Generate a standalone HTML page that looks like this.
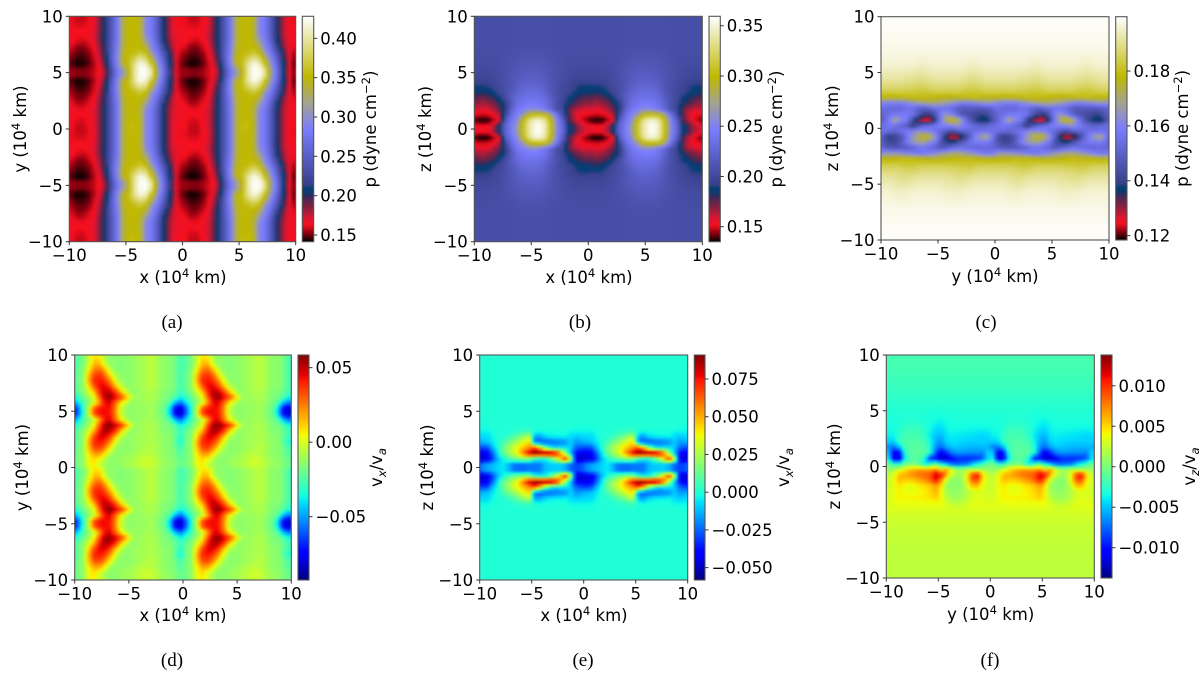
<!DOCTYPE html>
<html lang="en">
<head>
<meta charset="utf-8">
<title>Pressure and velocity slices</title>
<style>
html,body{margin:0;padding:0;background:#fff;width:1200px;height:677px;overflow:hidden}
svg{display:block}
text{font-family:"DejaVu Sans",sans-serif;fill:#000}
.cap{font-family:"Liberation Serif",serif;font-size:19px}
</style>
</head>
<body>
<svg id="fig" xmlns="http://www.w3.org/2000/svg" width="1200" height="677" viewBox="0 0 1200 677">
<defs id="defs"></defs>
<rect width="1200" height="677" fill="#fff"/>
<g id="panel-a"></g>
<g id="panel-b"></g>
<g id="panel-c"></g>
<g id="panel-d"></g>
<g id="panel-e"></g>
<g id="panel-f"></g>
<text class="cap" x="172" y="328" text-anchor="middle">(a)</text>
<text class="cap" x="580" y="328" text-anchor="middle">(b)</text>
<text class="cap" x="986" y="328" text-anchor="middle">(c)</text>
<text class="cap" x="172" y="666" text-anchor="middle">(d)</text>
<text class="cap" x="583" y="666" text-anchor="middle">(e)</text>
<text class="cap" x="990" y="666" text-anchor="middle">(f)</text>
</svg>
<script>
// ---------- axis data ----------
const axisTicks = [-10, -5, 0, 5, 10];
const axisTickLabels = ["\u221210", "\u22125", "0", "5", "10"];

const tileColumnEdges = [-10,-9.5,-9,-8.5,-8,-7.5,-7,-6.5,-6,-5.5,-5,-4.5,-4,-3.5,-3,-2.5,-2,-1.5,-1,-0.5,0];
const tileRowEdges = [10,9.5,9,8.5,8,7.5,7,6.5,6,5.5,5,4.5,4,3.5,3,2.5,2,1.5,1,0.5,0];
const slabRowEdges = [10,8,6.5,5,4,3.5,3,2.5,2,1.5,1,0.5,0,-0.5,-1,-1.5,-2,-2.5,-3,-3.5,-4,-5,-6.5,-8,-10];

// ---------- colour-bar data ----------
const cbarTicksA = [150, 200, 250, 300, 350, 400];
const cbarLabelsA = ["0.15", "0.20", "0.25", "0.30", "0.35", "0.40"];
const cbarTicksB = [150, 200, 250, 300, 350];
const cbarLabelsB = ["0.15", "0.20", "0.25", "0.30", "0.35"];
const cbarTicksC = [120, 140, 160, 180];
const cbarLabelsC = ["0.12", "0.14", "0.16", "0.18"];
const cbarTicksD = [-50, 0, 50];
const cbarLabelsD = ["\u22120.05", "0.00", "0.05"];
const cbarTicksE = [-50, -25, 0, 25, 50, 75];
const cbarLabelsE = ["\u22120.050", "\u22120.025", "0.000", "0.025", "0.050", "0.075"];
const cbarTicksF = [-100, -50, 0, 50, 100];
const cbarLabelsF = ["\u22120.010", "\u22120.005", "0.000", "0.005", "0.010"];

// ---------- field values ----------
// (a) p in 1e-3 dyne/cm2, one x-y period
const pressureXY = [
[162,158,158,162,168,190,209,245,280,335,352,352,345,295,280,250,209,185,166,162],
[162,160,160,163,168,190,209,245,280,335,352,352,345,295,280,250,209,185,166,162],
[164,163,163,164,170,190,209,245,280,335,352,352,345,295,280,250,209,185,166,164],
[164,163,163,165,172,192,209,245,280,335,352,352,345,300,282,252,210,186,168,165],
[164,160,158,162,170,190,209,248,282,335,352,352,347,318,288,258,215,190,170,164],
[160,152,152,158,166,186,209,250,285,338,352,352,350,340,295,270,228,195,172,162],
[154,149,149,153,162,182,207,252,290,342,352,355,368,355,310,282,245,209,178,158],
[150,145,146,150,160,176,205,250,295,345,355,375,395,385,340,295,258,212,180,155],
[146,142,143,148,157,172,198,245,292,340,358,395,420,412,365,310,270,220,185,152],
[154,152,152,154,159,166,188,235,280,310,345,398,425,425,400,320,280,225,180,154],
[154,152,152,154,159,166,188,235,280,310,345,398,425,425,400,320,280,225,180,154],
[146,142,143,148,157,172,198,245,292,340,358,395,420,412,365,310,270,220,185,152],
[150,145,146,150,160,176,205,250,295,345,355,378,395,385,340,295,258,212,180,155],
[154,149,149,153,162,182,207,252,290,342,352,356,368,355,310,282,245,209,178,158],
[158,151,152,158,166,186,209,250,285,338,352,352,350,338,295,270,228,195,172,162],
[162,156,157,162,168,188,209,248,282,335,352,352,345,315,288,258,215,190,170,165],
[164,162,162,164,170,190,209,245,280,335,350,350,342,298,280,250,209,186,168,165],
[165,163,163,165,170,190,209,245,280,335,350,350,342,295,280,250,209,185,168,165],
[163,160,160,164,170,190,209,245,280,335,352,352,345,295,280,250,209,185,166,164],
[163,158,158,163,170,190,209,245,280,335,355,355,348,295,280,250,209,185,166,163]
];

// (b) p in 1e-3 dyne/cm2, one x period
const pressureXZ = [
[205,205,205,205,205,205,206,206,206,206,206,206,206,206,205,205,205,205,205,205],
[205,205,205,205,205,205,206,207,207,207,207,207,207,206,205,205,205,205,205,205],
[203,203,203,204,205,207,209,211,213,213,213,213,211,209,207,205,204,203,203,203],
[198,198,199,200,203,207,212,216,219,220,220,219,216,211,207,204,201,199,197,197],
[190,189,191,197,202,206,212,220,225,227,227,225,220,212,206,202,198,194,189,188],
[184,182,185,190,199,206,215,224,230,232,232,230,224,214,206,201,197,190,186,185],
[175,172,176,180,190,205,218,230,236,238,238,236,230,218,208,200,188,184,178,176],
[168,165,168,172,182,192,215,234,240,244,244,242,236,222,208,198,185,178,172,168],
[158,156,158,165,175,190,222,240,248,254,256,250,240,225,206,198,175,165,160,158],
[150,148,150,155,165,200,232,250,262,295,305,305,300,275,240,205,178,160,152,150],
[137,135,137,146,160,220,240,255,298,330,348,350,335,295,250,222,178,165,152,145],
[155,152,155,165,190,225,245,265,302,335,352,358,340,300,255,228,190,178,165,158],
[155,152,155,165,190,225,245,265,302,335,352,358,340,300,255,228,190,178,165,158],
[137,135,137,146,160,220,240,255,298,330,348,350,335,295,250,222,178,165,152,145],
[150,148,150,155,165,200,232,250,262,295,305,305,300,275,240,205,178,160,152,150],
[158,156,158,165,175,190,222,240,248,254,256,250,240,225,206,198,175,165,160,158],
[168,165,168,172,182,192,215,234,240,244,244,242,236,222,208,198,185,178,172,168],
[175,172,176,180,190,205,218,230,236,238,238,236,230,218,208,200,188,184,178,176],
[184,182,185,190,199,206,215,224,230,232,232,230,224,214,206,201,197,190,186,185],
[190,189,191,197,202,206,212,220,225,227,227,225,220,212,206,202,198,194,189,188],
[198,198,199,200,203,207,212,216,219,220,220,219,216,211,207,204,201,199,197,197],
[203,203,203,204,205,207,209,211,213,213,213,213,211,209,207,205,204,203,203,203],
[205,205,205,205,205,205,206,207,207,207,207,207,207,206,205,205,205,205,205,205],
[205,205,205,205,205,205,206,206,206,206,206,206,206,206,205,205,205,205,205,205]
];

// (c) p in 1e-3 dyne/cm2, one y period
const pressureYZ = [
[199,199,199,199,199,199,199,199,199,199,199,199,199,199,199,199,199,199,199,199],
[198,198,198,198,198,198,198,198,198,198,198,198,198,198,198,198,198,198,198,198],
[196,196,196,196,196,196,195,195,196,196,196,196,196,196,196,195,195,196,196,196],
[192,192,192,192,191,191,190,190,191,192,192,192,192,192,191,190,190,191,192,192],
[188,188,188,188,187,187,186,186,187,188,188,188,188,188,187,186,186,187,188,188],
[184,184,184,184,183,183,182,182,183,184,184,184,184,184,183,182,182,183,184,184],
[177,176,176,177,178,179,179,179,178,177,176,176,176,177,178,179,179,178,177,177],
[160,158,158,158,160,163,166,168,170,170,168,166,164,160,158,158,160,162,165,163],
[155,152,152,152,155,155,150,148,150,154,155,155,152,148,146,147,147,146,147,150],
[152,155,158,158,158,156,148,140,138,145,160,165,160,152,146,144,142,140,142,148],
[152,160,170,162,158,145,132,126,125,140,158,172,178,172,160,148,140,136,134,144],
[155,158,156,152,148,138,144,152,154,157,160,160,162,165,160,156,152,150,152,154],
[155,154,152,155,158,160,164,162,160,156,152,148,144,150,152,152,155,155,155,155],
[144,137,140,146,155,165,172,178,176,165,150,132,125,126,135,148,160,168,172,160],
[146,142,142,148,158,165,168,168,162,158,145,140,138,144,150,155,158,158,158,154],
[150,147,147,147,148,150,155,156,154,150,147,150,154,156,155,153,152,152,153,152],
[165,166,165,164,162,160,158,158,160,162,166,168,170,170,168,166,163,160,158,158],
[177,177,178,179,179,179,178,177,176,176,176,177,178,179,179,179,178,177,176,176],
[184,184,184,183,182,182,183,184,184,184,184,184,183,183,182,182,183,184,184,184],
[188,188,188,187,186,186,187,188,188,188,188,188,187,187,186,186,187,188,188,188],
[192,192,191,190,190,191,192,192,192,192,192,191,191,190,190,191,192,192,192,192],
[196,196,195,195,195,196,196,196,196,196,196,195,195,195,195,196,196,196,196,196],
[198,198,198,198,198,198,198,198,198,198,198,198,198,198,198,198,198,198,198,198],
[199,199,199,199,199,199,199,199,199,199,199,199,199,199,199,199,199,199,199,199]
];

// (d) vx/va in 1e-3, one x-y period
const velocityXY = [
[-24,-18,-6,8,10,-6,-14,-14,-16,-14,-14,-10,-10,-6,-6,-10,-14,-14,-18,-28],
[-24,-18,-4,14,16,-2,-14,-14,-16,-14,-14,-10,-10,-6,-6,-10,-14,-14,-18,-28],
[-22,-16,2,22,28,15,-4,-14,-16,-14,-14,-10,-10,-6,-6,-10,-14,-14,-18,-28],
[-20,-15,12,32,38,28,8,-8,-14,-14,-14,-10,-10,-6,-6,-10,-14,-14,-18,-28],
[-20,-15,14,38,42,38,22,2,-12,-14,-14,-10,-10,-6,-6,-10,-14,-14,-18,-28],
[-20,-14,8,30,44,45,35,15,-4,-12,-14,-10,-10,-6,-6,-10,-14,-14,-18,-28],
[-22,-16,-2,14,38,52,48,35,14,-4,-14,-12,-10,-8,-8,-12,-16,-16,-20,-30],
[-30,-22,-10,0,28,50,58,46,36,20,-4,-12,-10,-8,-8,-12,-16,-18,-24,-36],
[-42,-28,-16,-4,18,42,46,28,8,-6,-14,-12,-12,-10,-10,-14,-18,-24,-45,-58],
[-60,-34,-6,30,42,44,42,24,-2,-12,-14,-12,-12,-10,-10,-16,-20,-40,-72,-85],
[-60,-34,-6,30,42,44,42,24,-2,-12,-14,-12,-12,-10,-10,-16,-20,-40,-72,-85],
[-42,-28,-16,-4,18,42,46,28,8,-6,-14,-12,-12,-10,-10,-14,-18,-24,-45,-58],
[-30,-22,-10,2,30,52,58,48,38,20,-4,-12,-10,-8,-8,-12,-16,-18,-24,-36],
[-22,-16,-2,16,40,54,50,38,14,-4,-14,-12,-10,-8,-8,-12,-16,-16,-20,-30],
[-20,-14,8,32,46,46,36,15,-4,-12,-14,-10,-10,-8,-8,-10,-14,-14,-20,-32],
[-20,-15,14,38,42,38,22,2,-12,-14,-12,-10,-10,-8,-8,-10,-14,-14,-22,-38],
[-18,-14,12,32,36,26,8,-8,-14,-14,-14,-10,-10,-6,-6,-10,-14,-14,-18,-28],
[-18,-14,6,20,22,10,-6,-14,-14,-12,-12,-8,-6,-6,-8,-10,-14,-14,-18,-26],
[-18,-14,3,10,6,-6,-14,-14,-12,-10,-10,-6,-4,-2,-4,-8,-12,-14,-16,-22],
[-18,-14,3,8,-3,-10,-14,-14,-12,-10,-8,-6,-2,-2,-4,-8,-12,-12,-16,-20]
];

// (e) vx/va in 1e-3, one x period
const velocityXZ = [
[0,0,0,0,0,0,0,0,0,0,0,0,0,0,0,0,0,0,0,0],
[0,0,0,0,0,0,0,0,0,0,0,0,0,0,0,0,0,0,0,0],
[0,0,0,0,0,0,0,0,0,0,0,0,0,0,0,0,0,0,0,0],
[0,0,0,0,0,0,0,0,0,0,0,0,0,0,0,0,0,0,0,0],
[-1,-1,0,0,0,0,0,0,0,0,0,0,0,0,0,0,0,0,-1,-1],
[-3,-3,-1,0,0,0,1,2,3,4,0,-2,-1,-1,-1,-1,-1,-3,-3,-3],
[-8,-8,-3,0,0,3,8,14,20,28,-14,-16,-8,-5,-4,-4,-3,-8,-10,-8],
[-12,-10,-5,0,6,14,20,28,36,44,-24,-28,-28,-26,-24,-22,-20,-8,-18,-15],
[-30,-28,-12,0,12,22,32,40,48,55,72,48,18,0,-8,-5,-5,-10,-25,-28],
[-45,-42,-25,-5,12,20,30,42,62,80,90,92,92,92,85,60,20,-12,-40,-45],
[-45,-45,-30,-12,-3,5,12,15,18,15,0,-4,-6,5,20,45,72,30,-45,-48],
[-20,-15,-12,-8,-5,-12,-22,-24,-24,-22,-22,-22,-12,-10,-10,-10,-15,-25,-30,-28],
[-20,-15,-12,-8,-5,-12,-22,-24,-24,-22,-22,-22,-12,-10,-10,-10,-15,-25,-30,-28],
[-45,-45,-30,-12,-3,5,12,15,18,15,0,-4,-6,5,20,45,72,30,-45,-48],
[-45,-42,-25,-5,12,20,30,42,62,80,90,92,92,92,85,60,20,-12,-40,-45],
[-30,-28,-12,0,12,22,32,40,48,55,72,48,18,0,-8,-5,-5,-10,-25,-28],
[-12,-10,-5,0,6,14,20,28,36,44,-24,-28,-28,-26,-24,-22,-20,-8,-18,-15],
[-8,-8,-3,0,0,3,8,14,20,28,-14,-16,-8,-5,-4,-4,-3,-8,-10,-8],
[-3,-3,-1,0,0,0,1,2,3,4,0,-2,-1,-1,-1,-1,-1,-3,-3,-3],
[-1,-1,0,0,0,0,0,0,0,0,0,0,0,0,0,0,0,0,-1,-1],
[0,0,0,0,0,0,0,0,0,0,0,0,0,0,0,0,0,0,0,0],
[0,0,0,0,0,0,0,0,0,0,0,0,0,0,0,0,0,0,0,0],
[0,0,0,0,0,0,0,0,0,0,0,0,0,0,0,0,0,0,0,0],
[0,0,0,0,0,0,0,0,0,0,0,0,0,0,0,0,0,0,0,0]
];

// (f) vz/va in 1e-4, one y period
const velocityYZ = [
[-18,-18,-18,-18,-18,-18,-18,-18,-18,-18,-18,-18,-18,-18,-18,-18,-18,-18,-18,-18],
[-22,-22,-22,-22,-22,-22,-22,-22,-22,-22,-22,-22,-22,-22,-22,-22,-22,-22,-22,-22],
[-27,-27,-27,-27,-27,-27,-27,-27,-27,-27,-27,-27,-27,-27,-27,-27,-27,-27,-27,-27],
[-31,-31,-31,-30,-30,-30,-30,-31,-32,-33,-33,-32,-31,-31,-31,-31,-31,-31,-31,-31],
[-33,-33,-31,-27,-26,-26,-27,-30,-34,-38,-40,-36,-33,-33,-33,-33,-33,-33,-33,-33],
[-35,-34,-28,-22,-20,-20,-22,-28,-36,-44,-46,-38,-35,-36,-36,-36,-37,-38,-38,-37],
[-38,-36,-24,-19,-18,-18,-20,-26,-40,-50,-54,-42,-38,-40,-40,-42,-42,-44,-46,-44],
[-46,-44,-22,-16,-15,-14,-15,-20,-36,-56,-62,-46,-42,-42,-44,-46,-46,-46,-46,-46],
[-68,-70,-52,-18,-14,-12,-12,-15,-32,-62,-76,-58,-50,-50,-52,-52,-54,-54,-52,-54],
[-52,-108,-100,-30,-12,-10,-10,-12,-28,-78,-110,-92,-70,-62,-62,-64,-64,-64,-68,-44],
[-40,-118,-115,-42,-16,-12,-12,-35,-95,-100,-122,-122,-105,-92,-90,-92,-92,-90,-80,-44],
[-5,-28,-32,-10,-8,-5,-20,-48,-30,-15,-40,-60,-80,-85,-80,-78,-55,-38,-22,-8],
[5,12,28,40,55,62,66,62,65,72,40,68,35,15,10,20,15,10,12,8],
[22,36,60,66,70,78,82,88,92,122,115,70,30,15,12,40,95,115,55,26],
[25,38,58,52,52,56,65,70,85,108,75,25,5,3,8,38,85,90,44,28],
[26,38,46,38,35,38,44,48,55,65,50,12,5,5,8,25,55,58,36,28],
[28,38,42,38,36,38,40,44,50,60,42,15,8,8,12,18,30,34,32,28],
[30,38,42,42,42,42,42,45,48,55,42,22,12,10,14,20,30,34,32,30],
[33,36,38,38,38,38,38,38,38,40,38,30,22,20,22,28,33,35,35,33],
[33,33,33,33,33,33,33,33,33,33,33,32,30,30,30,32,33,33,33,33],
[28,28,28,28,28,28,28,28,28,28,28,28,28,28,28,28,28,28,28,28],
[25,25,25,25,25,25,25,25,25,25,25,25,25,25,25,25,25,25,25,25],
[23,23,23,23,23,23,23,23,23,23,23,23,23,23,23,23,23,23,23,23],
[22,22,22,22,22,22,22,22,22,22,22,22,22,22,22,22,22,22,22,22]
];

// ---------- colour maps ----------
const pressureMapStops = [
  [0,"#000000"],[0.04,"#900010"],[0.075,"#f5101f"],[0.10,"#e01530"],[0.15,"#8a2040"],
  [0.20,"#3a2a58"],[0.215,"#0a3a72"],[0.245,"#0a4078"],[0.25,"#353f88"],[0.5,"#7b7dff"],
  [0.62,"#a5a58a"],[0.73,"#bfb800"],[1,"#ffffff"]
];
function hexRgb(h){return [parseInt(h.substr(1,2),16),parseInt(h.substr(3,2),16),parseInt(h.substr(5,2),16)];}
function pressureColor(t){
  t=Math.max(0,Math.min(1,t));
  for(let i=1;i<pressureMapStops.length;i++){
    if(t<=pressureMapStops[i][0]){
      const a=pressureMapStops[i-1],b=pressureMapStops[i];
      const f=(t-a[0])/(b[0]-a[0]),ca=hexRgb(a[1]),cb=hexRgb(b[1]);
      return "rgb("+ca.map((v,k)=>Math.round(v+(cb[k]-v)*f)).join(",")+")";
    }
  }
  return "#fff";
}
function piece(pts,t){
  for(let i=1;i<pts.length;i++){
    if(t<=pts[i][0]){const a=pts[i-1],b=pts[i];return a[1]+(b[1]-a[1])*(t-a[0])/(b[0]-a[0]);}
  }
  return pts[pts.length-1][1];
}
function jetColor(t){
  t=Math.max(0,Math.min(1,t));
  const r=piece([[0,0],[0.35,0],[0.66,1],[0.89,1],[1,0.5]],t);
  const g=piece([[0,0],[0.125,0],[0.375,1],[0.64,1],[0.91,0],[1,0]],t);
  const b=piece([[0,0.5],[0.11,1],[0.34,1],[0.65,0],[1,0]],t);
  return "rgb("+Math.round(r*255)+","+Math.round(g*255)+","+Math.round(b*255)+")";
}

// ---------- panel layout ----------
const panels = [
 {id:"a",left:69.3,right:295.7,top:16.3,bottom:241.7,barL:302.3,barR:313.7,vmin:141.5,vmax:428,values:pressureXY,rows:tileRowEdges,wrapY:true,color:pressureColor,ticks:cbarTicksA,labels:cbarLabelsA,xName:"x",yName:"y",quantity:"p",xLabelX:183,xLabelY:283,yLabelX:26,cLabelX:376},
 {id:"b",left:474.3,right:702.3,top:16.3,bottom:241.7,barL:709,barR:720.3,vmin:135.1,vmax:359.4,values:pressureXZ,rows:slabRowEdges,wrapY:false,color:pressureColor,ticks:cbarTicksB,labels:cbarLabelsB,xName:"x",yName:"z",quantity:"p",xLabelX:589,xLabelY:283,yLabelX:431,cLabelX:782},
 {id:"c",left:881,right:1109,top:16.7,bottom:240,barL:1115.7,barR:1127,vmin:118.4,vmax:199.8,values:pressureYZ,rows:slabRowEdges,wrapY:false,color:pressureColor,ticks:cbarTicksC,labels:cbarLabelsC,xName:"y",yName:"z",quantity:"p",xLabelX:995,xLabelY:282,yLabelX:838,cLabelX:1188},
 {id:"d",left:74.7,right:291.3,top:355,bottom:580,barL:298,barR:309,vmin:-92.5,vmax:58.5,values:velocityXY,rows:tileRowEdges,wrapY:true,color:jetColor,ticks:cbarTicksD,labels:cbarLabelsD,xName:"x",yName:"y",quantity:"vx",xLabelX:183,xLabelY:621,yLabelX:28,cLabelX:382},
 {id:"e",left:479.7,right:687.7,top:355,bottom:580,barL:694.3,barR:705,vmin:-58.2,vmax:90.9,values:velocityXZ,rows:slabRowEdges,wrapY:false,color:jetColor,ticks:cbarTicksE,labels:cbarLabelsE,xName:"x",yName:"z",quantity:"vx",xLabelX:584,xLabelY:621,yLabelX:433,cLabelX:789},
 {id:"f",left:886.3,right:1094.3,top:355,bottom:578,barL:1101,barR:1112,vmin:-137.4,vmax:138,values:velocityYZ,rows:slabRowEdges,wrapY:false,color:jetColor,ticks:cbarTicksF,labels:cbarLabelsF,xName:"y",yName:"z",quantity:"vz",xLabelX:990.7,xLabelY:620,yLabelX:840,cLabelX:1195}
];

const NS="http://www.w3.org/2000/svg";
const defs=document.getElementById("defs");
const FS=16.5;
const CELL_PX=3;

function make(tag,attrs,parent){
  const e=document.createElementNS(NS,tag);
  for(const k in attrs)e.setAttribute(k,attrs[k]);
  if(parent)parent.appendChild(e);
  return e;
}
function addText(parent,name,str,x,y,anchor){
  const t=make("text",{x:x,y:y,"text-anchor":anchor,"font-size":FS},parent);
  t.textContent=str;
  
  
  return t;
}
function addTick(parent,name,x1,y1,x2,y2){
  const l=make("line",{x1:x1,y1:y1,x2:x2,y2:y2,stroke:"#333","stroke-width":1},parent);
  
  
}
function addSpan(t,str,opts){
  const s=make("tspan",opts||{},t);
  s.textContent=str;
}
function coordLabel(parent,name,axisName,x,y,rotate){
  const t=make("text",{x:x,y:y,"text-anchor":"middle","font-size":FS},parent);
  if(rotate)t.setAttribute("transform","rotate(-90 "+x+" "+y+")");
  addSpan(t,axisName+" (10");
  addSpan(t,"4",{dy:-6,"font-size":11.6});
  addSpan(t," km)",{dy:6});
  
  
}
function colorbarLabel(parent,p){
  const x=p.cLabelX,y=(p.top+p.bottom)/2;
  const t=make("text",{x:x,y:y,"text-anchor":"middle","font-size":FS,transform:"rotate(-90 "+x+" "+y+")"},parent);
  if(p.quantity==="p"){
    addSpan(t,"p (dyne cm");
    addSpan(t,"\u22122",{dy:-6,"font-size":11.6});
    addSpan(t,")",{dy:6});
  }else{
    const sub=p.quantity==="vx"?"x":"z";
    addSpan(t,"v");
    addSpan(t,sub,{dy:4,"font-size":11.6,"font-style":"italic"});
    addSpan(t,"/v",{dy:-4});
    addSpan(t,"a",{dy:4,"font-size":11.6,"font-style":"italic"});
  }
  
  
}

// Bilinear look-up in the tabulated field at axis coordinates (u, v).
function fieldAt(p,u,v){
  const nc=tileColumnEdges.length-1,nr=p.values.length;
  const period=tileColumnEdges[nc]-tileColumnEdges[0];
  const cw=period/nc;
  const uw=((u-tileColumnEdges[0])%period+period)%period;
  const cf=uw/cw-0.5;
  const c0=Math.floor(cf),cm=cf-c0;
  const ca=(c0+nc)%nc,cb=(c0+1)%nc;
  let ra,rb,rm;
  if(p.wrapY){
    const top=p.rows[0],bot=p.rows[nr],span=top-bot;
    const vw=((top-v)%span+span)%span;
    const rf=vw/(span/nr)-0.5;
    const r0=Math.floor(rf);
    rm=rf-r0;
    ra=(r0+nr)%nr;
    rb=(r0+1)%nr;
  }else{
    const mid=i=>(p.rows[i]+p.rows[i+1])/2;
    if(v>=mid(0)){ra=0;rb=0;rm=0;}
    else if(v<=mid(nr-1)){ra=nr-1;rb=nr-1;rm=0;}
    else{
      let i=0;
      while(v<mid(i+1))i++;
      ra=i;rb=i+1;
      rm=(mid(i)-v)/(mid(i)-mid(i+1));
    }
  }
  const m=p.values;
  const top=m[ra][ca]*(1-cm)+m[ra][cb]*cm;
  const bottom=m[rb][ca]*(1-cm)+m[rb][cb]*cm;
  return top*(1-rm)+bottom*rm;
}

function drawPanel(p){
  const g=document.getElementById("panel-"+p.id);
  const xScale=v=>p.left+(v+10)/20*(p.right-p.left);
  const yScale=v=>p.top+(10-v)/20*(p.bottom-p.top);
  const xInvert=px=>(px-p.left)/(p.right-p.left)*20-10;
  const yInvert=px=>10-(px-p.top)/(p.bottom-p.top)*20;
  const barScale=v=>p.bottom-(v-p.vmin)/(p.vmax-p.vmin)*(p.bottom-p.top);
  const norm=v=>(v-p.vmin)/(p.vmax-p.vmin);

  const clip=make("clipPath",{id:"clip-"+p.id},defs);
  make("rect",{x:p.left,y:p.top,width:p.right-p.left,height:p.bottom-p.top},clip);
  const filt=make("filter",{id:"soft-"+p.id,filterUnits:"userSpaceOnUse",x:p.left-20,y:p.top-20,width:p.right-p.left+40,height:p.bottom-p.top+40,"color-interpolation-filters":"sRGB"},defs);
  make("feGaussianBlur",{stdDeviation:1},filt);

  const clipG=make("g",{"clip-path":"url(#clip-"+p.id+")"},g);
  const cells=make("g",{filter:"url(#soft-"+p.id+")"},clipG);
  
  

  for(let py=p.top-12;py<p.bottom+12;py+=CELL_PX){
    for(let px=p.left-12;px<p.right+12;px+=CELL_PX){
      const val=fieldAt(p,xInvert(px+CELL_PX/2),yInvert(py+CELL_PX/2));
      const cell=make("rect",{x:px.toFixed(1),y:py.toFixed(1),width:CELL_PX+0.5,height:CELL_PX+0.5,fill:p.color(norm(val))},cells);
      
      
    }
  }

  const frame=make("rect",{x:p.left,y:p.top,width:p.right-p.left,height:p.bottom-p.top,fill:"none",stroke:"#555","stroke-width":1.1},g);
  
  

  axisTicks.forEach((v,i)=>{
    const x=xScale(v);
    addTick(g,"x-axis-tick",x,p.bottom,x,p.bottom+3.5);
    addText(g,"x-axis-tick-label",axisTickLabels[i],x,p.bottom+19.5,"middle");
    const y=yScale(v);
    addTick(g,"y-axis-tick",p.left-3.5,y,p.left,y);
    addText(g,"y-axis-tick-label",axisTickLabels[i],p.left-6.5,y+6,"end");
  });
  coordLabel(g,"x-axis-title",p.xName,p.xLabelX,p.xLabelY,false);
  coordLabel(g,"y-axis-title",p.yName,p.yLabelX,(p.top+p.bottom)/2,true);

  const gid="cbar-grad-"+p.id;
  const grad=make("linearGradient",{id:gid,x1:0,y1:1,x2:0,y2:0},defs);
  for(let i=0;i<=100;i++){
    make("stop",{offset:i/100,"stop-color":p.color(i/100)},grad);
  }
  const bar=make("rect",{x:p.barL,y:p.top,width:p.barR-p.barL,height:p.bottom-p.top,fill:"url(#"+gid+")",stroke:"#555","stroke-width":1.1},g);
  
  
  p.ticks.forEach((v,i)=>{
    const y=barScale(v);
    addTick(g,"colorbar-tick",p.barR,y,p.barR+3.5,y);
    addText(g,"colorbar-tick-label",p.labels[i],p.barR+6.5,y+6,"start");
  });
  colorbarLabel(g,p);
}
panels.forEach(drawPanel);
</script>
</body>
</html>
